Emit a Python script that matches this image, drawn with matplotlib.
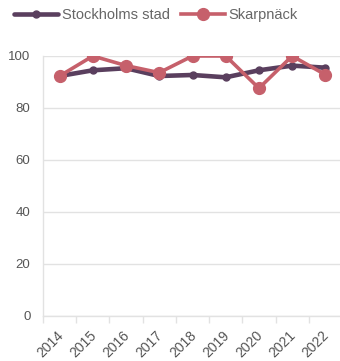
import matplotlib
import matplotlib.pyplot as plt
import matplotlib.transforms as mtransforms
import numpy as np

matplotlib.use('agg')

years = ['2014', '2015', '2016', '2017', '2018', '2019', '2020', '2021', '2022']
stockholm = [92.3, 94.5, 95.3, 92.3, 92.7, 91.8, 94.5, 96.3, 95.5]
skarpnack = [92.3, 100, 96.3, 93.6, 100, 100, 87.6, 100, 92.8]

purple = '#5a3f5e'
red = '#c6606b'
grid_col = '#e2e2e2'
text_col = '#555555'

plt.rcParams['font.family'] = ['Liberation Sans', 'DejaVu Sans']

fig = plt.figure(figsize=(3.4, 3.61), dpi=100)
ax = fig.add_axes([43 / 340, 45 / 361, 299 / 340, 260 / 361])

x = np.arange(len(years))
ax.plot(x, stockholm, color=purple, lw=3.3, marker='o', ms=5,
        solid_capstyle='round', label='Stockholms stad', zorder=3)
ax.plot(x, skarpnack, color=red, lw=2.6, marker='o', ms=8.5,
        label='Skarpnäck', zorder=4)

ax.set_xlim(-0.5, len(years) - 0.5)
ax.set_ylim(0, 100)
ax.set_yticks(range(0, 101, 20))
ax.yaxis.grid(True, color=grid_col, lw=1)
ax.set_axisbelow(True)

ax.set_xticks(x)
ax.set_xticklabels(years, rotation=45, ha='right', rotation_mode='anchor')
ax.set_xticks(np.arange(len(years)) - 0.5, minor=True)
ax.tick_params(axis='x', which='major', length=0, pad=9, labelsize=10,
               labelcolor=text_col)
ax.tick_params(axis='x', which='minor', length=5, color=grid_col, width=1)
ax.tick_params(axis='y', length=0, pad=9, labelsize=9.5, labelcolor=text_col)

# nudge the rotated year labels a little to the left
shift = mtransforms.ScaledTranslation(-0.035, 0, fig.dpi_scale_trans)
for lbl in ax.get_xticklabels():
    lbl.set_transform(lbl.get_transform() + shift)

for side in ['top', 'right']:
    ax.spines[side].set_visible(False)
for side in ['left', 'bottom']:
    ax.spines[side].set_color(grid_col)
    ax.spines[side].set_linewidth(1)

fig.legend(loc='upper left', bbox_to_anchor=(0.025, 0.995), ncol=2,
           frameon=False, fontsize=10.5, handlelength=3.0,
           handletextpad=0.25, columnspacing=0.8, labelcolor='#666666',
           borderaxespad=0)

fig.savefig('out.png', dpi=100)
